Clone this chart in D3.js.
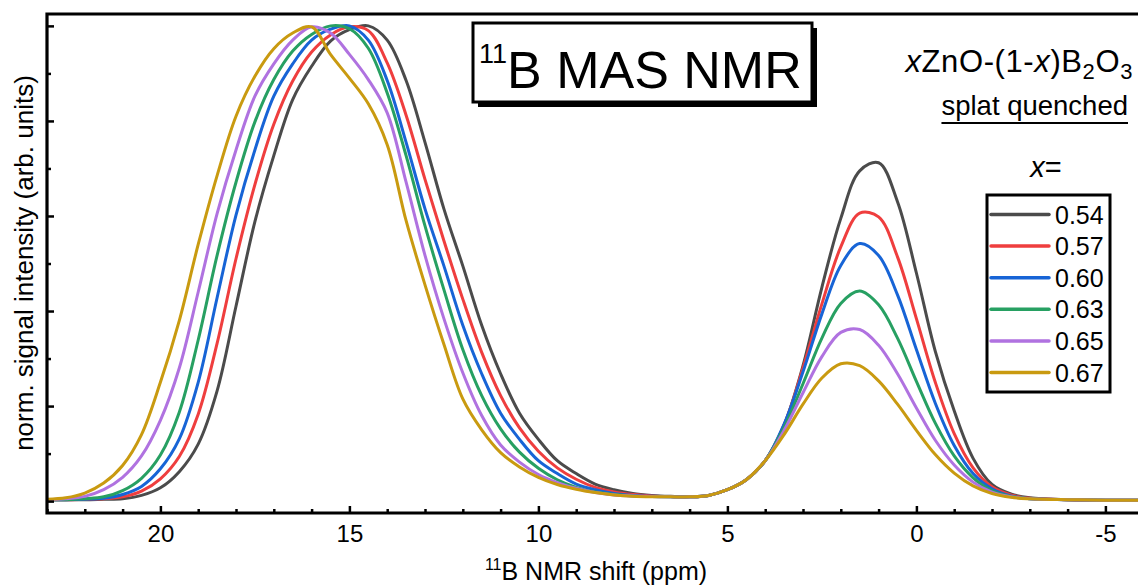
<!DOCTYPE html>
<html lang="en">
	<head>
		<meta charset="utf-8">
		<title>11B MAS NMR</title>
		<script src="https://d3js.org/d3.v7.min.js"></script>
		<style type="text/css">
		body { margin: 0; background: #fff; }
		svg { display: block; }
		text {
			font-family: "Liberation Sans", Arial, sans-serif;
			fill: #000;
		}
		</style>
	</head>
	<body>
		<div id="chart"></div>
		<script type="text/javascript">
		//Data: chemical shift grid (ppm) and normalised intensities per composition
		var ppm = [23,22.5,22,21.5,21,20.5,20,19.5,19,18.5,18,17.5,17,16.5,16,15.5,15,14.5,14,13.5,13,12.5,12,11.5,11,10.5,10,9.5,9,8.5,8,7.5,7,6.5,6,5.5,5,4.5,4,3.5,3,2.5,2,1.5,1,0.5,0,-0.5,-1,-1.5,-2,-2.5,-3,-4,-5,-6];

		var x054 = [.003,.003,.003,.004,.005,.012,.028,.062,.12,.232,.41,.588,.727,.845,.915,.968,.992,1.0,.97,.885,.755,.615,.495,.37,.268,.185,.13,.085,.058,.036,.024,.016,.012,.010,.009,.012,.024,.045,.085,.16,.285,.45,.595,.695,.712,.63,.48,.315,.19,.09,.035,.015,.007,.003,.002,.002];
		var x057 = [.003,.003,.004,.005,.009,.021,.047,.094,.183,.332,.51,.666,.793,.884,.945,.981,.998,.99,.922,.812,.677,.548,.425,.313,.222,.154,.105,.07,.046,.029,.0195,.014,.011,.0095,.009,.012,.024,.045,.085,.16,.28,.415,.535,.606,.598,.514,.384,.25,.142,.07,.03,.013,.006,.003,.002,.002];
		var x060 = [.003,.003,.004,.006,.014,.031,.068,.131,.25,.428,.602,.739,.852,.92,.97,.993,1.0,.97,.885,.755,.615,.495,.37,.268,.185,.13,.085,.058,.036,.024,.016,.012,.010,.009,.009,.012,.024,.045,.085,.162,.272,.394,.496,.542,.517,.434,.319,.206,.117,.058,.026,.011,.005,.003,.002,.002];
		var x063 = [.003,.003,.005,.009,.022,.048,.097,.187,.339,.517,.671,.798,.887,.947,.982,1.0,.994,.953,.859,.727,.579,.445,.319,.222,.152,.103,.069,.045,.029,.019,.014,.011,.0095,.009,.009,.012,.024,.045,.085,.155,.247,.343,.416,.442,.413,.343,.252,.164,.095,.049,.022,.010,.005,.003,.002,.002];
		var x065 = [.003,.005,.010,.024,.05,.095,.17,.28,.44,.605,.739,.852,.92,.97,.998,.985,.94,.887,.817,.671,.517,.384,.27,.18,.118,.082,.056,.039,.027,.018,.013,.011,.0095,.009,.009,.012,.024,.045,.085,.149,.228,.304,.355,.361,.328,.268,.196,.128,.076,.04,.019,.009,.005,.003,.002,.002];
		var x067 = [.004,.007,.017,.038,.075,.14,.25,.38,.54,.685,.81,.894,.952,.985,.998,.94,.89,.836,.75,.59,.455,.33,.215,.15,.102,.072,.05,.035,.025,.018,.013,.010,.009,.009,.009,.012,.024,.045,.085,.14,.204,.259,.289,.285,.253,.204,.149,.098,.059,.032,.016,.008,.005,.003,.002,.002];

		var seriesNames = ["0.54", "0.57", "0.60", "0.63", "0.65", "0.67"];
		var seriesValues = [x054, x057, x060, x063, x065, x067];
		var seriesColors = ["#4b4b4b", "#ef3e3e", "#1764d6", "#27a062", "#b072e0", "#c99a10"];

		var xMajorTicks = [20, 15, 10, 5, 0, -5];
		var yMajorTicks = [0, 0.2, 0.4, 0.6, 0.8, 1.0];
		var yMinorTicks = [0.1, 0.3, 0.5, 0.7, 0.9];

		//Width and height
		var w = 1138;
		var h = 586;
		var padLeft = 47, padTop = 14, padBottom = 513;

		//Create scale functions
		var xScale = d3.scaleLinear()
		.domain([23, -6])
		.range([padLeft, padLeft + 29 * 37.8]);

		var yScale = d3.scaleLinear()
		.domain([-0.025, 1.025])
		.range([padBottom, padTop]);

		//Create SVG element
		var svg = d3.select("#chart")
		.append("svg")
		.attr("width", w)
		.attr("height", h)
		.style("overflow", "hidden");

		svg.append("clipPath")
		.attr("id", "plotclip")
		.append("rect")
		.attr("x", padLeft)
		.attr("y", padTop)
		.attr("width", w - padLeft)
		.attr("height", padBottom - padTop);

		//Curves
		var line = d3.line()
		.x(d => xScale(d[0]))
		.y(d => yScale(d[1]))
		.curve(d3.curveCatmullRom.alpha(0.5));

		var curves = svg.append("g").attr("clip-path", "url(#plotclip)");
		seriesValues.forEach(function (vals, i) {
			curves.append("path")
			.datum(ppm.map((p, j) => [p, vals[j]]))
			.attr("d", line)
			.attr("fill", "none")
			.attr("stroke", seriesColors[i])
			.attr("stroke-width", 3)
			.attr("stroke-linejoin", "round");
		});

		//X axis (ticks point inward)
		var minorX = d3.range(-6, 24).filter(v => v % 5 !== 0);
		svg.append("g")
		.attr("transform", "translate(0," + padBottom + ")")
		.call(d3.axisBottom(xScale).tickValues(minorX).tickSize(-4).tickFormat(""))
		.call(g => g.select(".domain").remove())
		.selectAll("line").attr("stroke-width", 2.5);

		var xAxisG = svg.append("g")
		.attr("transform", "translate(0," + padBottom + ")")
		.call(d3.axisBottom(xScale).tickValues(xMajorTicks).tickSize(-7).tickPadding(12).tickFormat(d3.format("d")));
		xAxisG.select(".domain").remove();
		xAxisG.selectAll("line").attr("stroke-width", 2.5);
		xAxisG.selectAll("text")
		.attr("font-size", 24)
		.text(d => d < 0 ? "-" + Math.abs(d) : d);

		//Y axis
		svg.append("g")
		.attr("transform", "translate(" + padLeft + ",0)")
		.call(d3.axisLeft(yScale).tickValues(yMajorTicks).tickSize(-7).tickFormat(""))
		.call(g => g.select(".domain").remove())
		.selectAll("line").attr("stroke-width", 2.5);

		svg.append("g")
		.attr("transform", "translate(" + padLeft + ",0)")
		.call(d3.axisLeft(yScale).tickValues(yMinorTicks).tickSize(-4).tickFormat(""))
		.call(g => g.select(".domain").remove())
		.selectAll("line").attr("stroke-width", 2.5);

		//Frame (left, top, bottom)
		svg.append("path")
		.attr("d", "M" + w + "," + padTop + "H" + padLeft + "V" + padBottom + "H" + w)
		.attr("fill", "none")
		.attr("stroke", "#000")
		.attr("stroke-width", 3.2);

		//Axis titles
		var xt = svg.append("text")
		.attr("x", 596)
		.attr("y", 580)
		.attr("text-anchor", "middle")
		.attr("font-size", 25);
		xt.append("tspan").attr("font-size", 16).attr("dy", -10).text("11");
		xt.append("tspan").attr("dy", 10).text("B NMR shift (ppm)");

		svg.append("text")
		.attr("transform", "translate(33,263) rotate(-90)")
		.attr("text-anchor", "middle")
		.attr("font-size", 26)
		.text("norm. signal intensity (arb. units)");

		//Title box with shadow
		svg.append("rect")
		.attr("x", 478).attr("y", 28)
		.attr("width", 339).attr("height", 79)
		.attr("fill", "#000");
		svg.append("rect")
		.attr("x", 473).attr("y", 23)
		.attr("width", 339).attr("height", 79)
		.attr("fill", "#fff")
		.attr("stroke", "#000")
		.attr("stroke-width", 3);
		var tt = svg.append("text")
		.attr("x", 479)
		.attr("y", 88);
		tt.append("tspan").attr("font-size", 27).attr("dy", -25).text("11");
		tt.append("tspan").attr("font-size", 52).attr("dy", 25).text("B MAS NMR");

		//Composition label
		var comp = svg.append("text")
		.attr("x", 1133)
		.attr("y", 72)
		.attr("text-anchor", "end")
		.attr("font-size", 31)
		.attr("letter-spacing", 0.6);
		comp.append("tspan").attr("font-style", "italic").text("x");
		comp.append("tspan").text("ZnO-(1-");
		comp.append("tspan").attr("font-style", "italic").text("x");
		comp.append("tspan").text(")B");
		comp.append("tspan").attr("font-size", 22).attr("dy", 7).text("2");
		comp.append("tspan").attr("dy", -7).text("O");
		comp.append("tspan").attr("font-size", 22).attr("dy", 7).text("3");

		var sq = svg.append("text")
		.attr("x", 1128)
		.attr("y", 115)
		.attr("text-anchor", "end")
		.attr("font-size", 27.5)
		.text("splat quenched");
		var sqw = sq.node().getComputedTextLength();
		svg.append("line")
		.attr("x1", 1128 - sqw).attr("x2", 1128)
		.attr("y1", 123).attr("y2", 123)
		.attr("stroke", "#000")
		.attr("stroke-width", 2);

		var xe = svg.append("text")
		.attr("x", 1046)
		.attr("y", 177)
		.attr("text-anchor", "middle")
		.attr("font-size", 29);
		xe.append("tspan").attr("font-style", "italic").text("x");
		xe.append("tspan").text("=");

		//Legend
		var legend = svg.append("g");
		legend.append("rect")
		.attr("x", 987).attr("y", 195)
		.attr("width", 123).attr("height", 197)
		.attr("fill", "#fff")
		.attr("stroke", "#000")
		.attr("stroke-width", 3);

		var items = legend.selectAll("g.item")
		.data(seriesNames)
		.enter()
		.append("g")
		.attr("class", "item")
		.attr("transform", (d, i) => "translate(0," + (214.5 + i * 31.6) + ")");

		items.append("line")
		.attr("x1", 991).attr("x2", 1049)
		.attr("y1", 0).attr("y2", 0)
		.attr("stroke", (d, i) => seriesColors[i])
		.attr("stroke-width", 3.5)
		.attr("stroke-linecap", "round");

		items.append("text")
		.attr("x", 1055)
		.attr("y", 9)
		.attr("font-size", 25)
		.text(d => d);
		</script>
	</body>
</html>
